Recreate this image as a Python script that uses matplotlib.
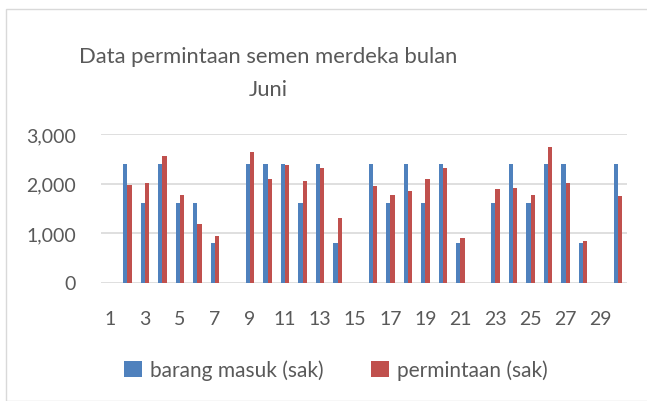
import matplotlib
matplotlib.use("Agg")
import matplotlib.pyplot as plt
import numpy as np
from matplotlib.patches import Rectangle

plt.rcParams['font.family'] = ['Lato', 'DejaVu Sans']

days = list(range(1, 31))
barang_masuk = [0, 2400, 1600, 2400, 1600, 1600, 800, 0, 2400, 2400,
                2400, 1600, 2400, 800, 0, 2400, 1600, 2400, 1600, 2400,
                800, 0, 1600, 2400, 1600, 2400, 2400, 800, 0, 2400]
permintaan = [0, 1970, 2010, 2560, 1770, 1180, 940, 0, 2640, 2090,
              2370, 2050, 2310, 1300, 0, 1950, 1770, 1850, 2090, 2310,
              900, 0, 1890, 1910, 1770, 2740, 2010, 840, 0, 1750]
yticks = [0, 1000, 2000, 3000]
ytick_labels = ['0', '1,000', '2,000', '3,000']

blue = '#4F81BD'
red = '#C0504D'
txt = '#595959'

W, H = 647, 402
fig = plt.figure(figsize=(W / 100, H / 100), dpi=100)

# chart border
fig.patches.append(Rectangle((6 / W, 0), 1, 1 - 10 / H, transform=fig.transFigure,
                             fill=False, edgecolor='#D9D9D9', linewidth=1))

ax = fig.add_axes([101 / W, 1 - 283.5 / H, (627 - 101) / W, (283.5 - 135) / H])
x = np.arange(len(days))
w = 0.24
ax.bar(x - w / 2, barang_masuk, w, color=blue, label='barang masuk (sak)')
ax.bar(x + w / 2, permintaan, w, color=red, label='permintaan (sak)')

ax.set_xlim(-0.5, len(days) - 0.5)
ax.set_ylim(0, 3000)
ax.set_yticks(yticks)
ax.set_yticklabels(ytick_labels)
ax.set_xticks(x[::2])
ax.set_xticklabels([str(d) for d in days[::2]])
ax.grid(axis='y', color='#D9D9D9', linewidth=1.2)
ax.set_axisbelow(True)
for s in ax.spines.values():
    s.set_visible(False)
ax.tick_params(length=0, labelsize=14, colors=txt)
ax.tick_params(axis='x', pad=20)
ax.tick_params(axis='y', pad=18)

fig.text(268 / W, 1 - 57 / H, 'Data permintaan semen merdeka bulan', ha='center', va='center',
         fontsize=15.8, color=txt)
fig.text(268 / W, 1 - 90 / H, 'Juni', ha='center', va='center', fontsize=15.8, color=txt)

fig.legend(loc='center', bbox_to_anchor=(336 / W, 1 - 371 / H), ncol=2, frameon=False,
           fontsize=15, labelcolor=txt, handlelength=0.85, handleheight=0.85,
           handletextpad=0.4, columnspacing=2.3)

fig.savefig('out.png', dpi=100)
